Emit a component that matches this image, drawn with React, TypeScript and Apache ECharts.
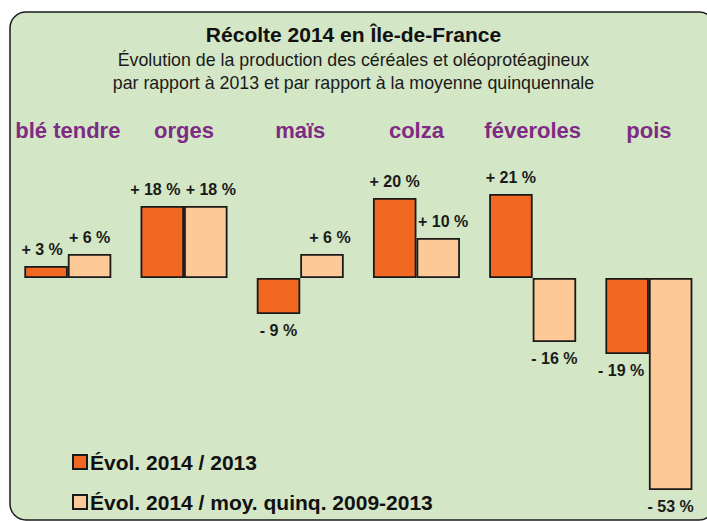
import React, { useEffect, useRef } from "react";
import * as echarts from "echarts";

const categories = ["blé tendre", "orges", "maïs", "colza", "féveroles", "pois"];
const evol2013 = [3, 18, -9, 20, 21, -19];
const evolQuinq = [6, 18, 6, 10, -16, -53];
const seriesNames = ["Évol. 2014 / 2013", "Évol. 2014 / moy. quinq. 2009-2013"];
const titleText = "Récolte 2014 en Île-de-France";
const subText =
  "Évolution de la production des céréales et oléoprotéagineux\npar rapport à 2013 et par rapport à la moyenne quinquennale";

// small horizontal label nudges (style only), as in the original layout
const labelNudge2013 = [-4, -7, 0, 0, 0, -6];
const labelNudgeQuinq = [0, 5, 8, 5, 0, 0];

const FONT = "'Liberation Sans', Arial, sans-serif";

const fmt = (v: number) => (v >= 0 ? `+ ${v} %` : `- ${-v} %`);

const toData = (arr: number[], nudge: number[]) =>
  arr.map((v, i) => ({
    value: v,
    label: {
      position: v >= 0 ? "top" : "bottom",
      distance: v >= 0 ? 9 : 8,
      offset: [nudge[i], 0],
    },
  }));

export default function App() {
  const ref = useRef<HTMLDivElement>(null);
  useEffect(() => {
    if (!ref.current) return;
    const chart = echarts.init(ref.current, undefined, { renderer: "svg" });
    const labelStyle = {
      show: true,
      formatter: (p: any) => fmt(p.value),
      fontFamily: FONT,
      fontWeight: "bold",
      fontSize: 16,
      color: "#1a1a1a",
    };
    const legendBase = {
      orient: "vertical",
      left: 72,
      padding: 0,
      itemWidth: 14,
      itemHeight: 14,
      itemGap: 5,
      icon: "rect",
      textStyle: {
        fontFamily: FONT,
        fontWeight: "bold",
        fontSize: 21,
        lineHeight: 22,
        color: "#111111",
        padding: [0, 0, 0, -2],
      },
    };
    chart.setOption({
      animation: false,
      backgroundColor: "#ffffff",
      graphic: [
        {
          type: "rect",
          z: -10,
          silent: true,
          shape: { x: 10, y: 12, width: 705, height: 508, r: 16 },
          style: { fill: "#d3e6c5", stroke: "#1a1a1a", lineWidth: 1.5 },
        },
      ],
      title: {
        text: titleText,
        subtext: subText,
        left: "center",
        top: 18,
        itemGap: 3,
        textStyle: {
          fontFamily: FONT,
          fontWeight: "bold",
          fontSize: 21,
          lineHeight: 22,
          color: "#111111",
        },
        subtextStyle: {
          fontFamily: FONT,
          fontSize: 17.8,
          lineHeight: 23,
          color: "#1a1a1a",
        },
      },
      legend: [
        { ...legendBase, top: 451, data: [seriesNames[0]] },
        { ...legendBase, top: 491, data: [seriesNames[1]] },
      ],
      grid: { left: 9.7, right: -5.3, top: 158, bottom: 3, containLabel: false },
      xAxis: {
        type: "category",
        position: "top",
        data: categories,
        axisLine: { show: false },
        axisTick: { show: false },
        axisLabel: {
          margin: 17,
          fontFamily: FONT,
          fontWeight: "bold",
          fontSize: 22,
          color: "#7f2a84",
          interval: 0,
        },
      },
      yAxis: {
        type: "value",
        min: -60,
        max: 30,
        show: false,
        splitLine: { show: false },
      },
      series: [
        {
          name: seriesNames[0],
          type: "bar",
          data: toData(evol2013, labelNudge2013),
          barWidth: 43.5,
          barGap: "0%",
          itemStyle: { color: "#f26722", borderColor: "#1a1a1a", borderWidth: 1.8 },
          label: labelStyle,
        },
        {
          name: seriesNames[1],
          type: "bar",
          data: toData(evolQuinq, labelNudgeQuinq),
          barWidth: 43.5,
          barGap: "0%",
          itemStyle: { color: "#fdca97", borderColor: "#1a1a1a", borderWidth: 1.8 },
          label: labelStyle,
        },
      ],
    });
    return () => chart.dispose();
  }, []);
  return <div ref={ref} style={{ width: 707, height: 521, position: "absolute", left: 0, top: 0 }} />;
}
